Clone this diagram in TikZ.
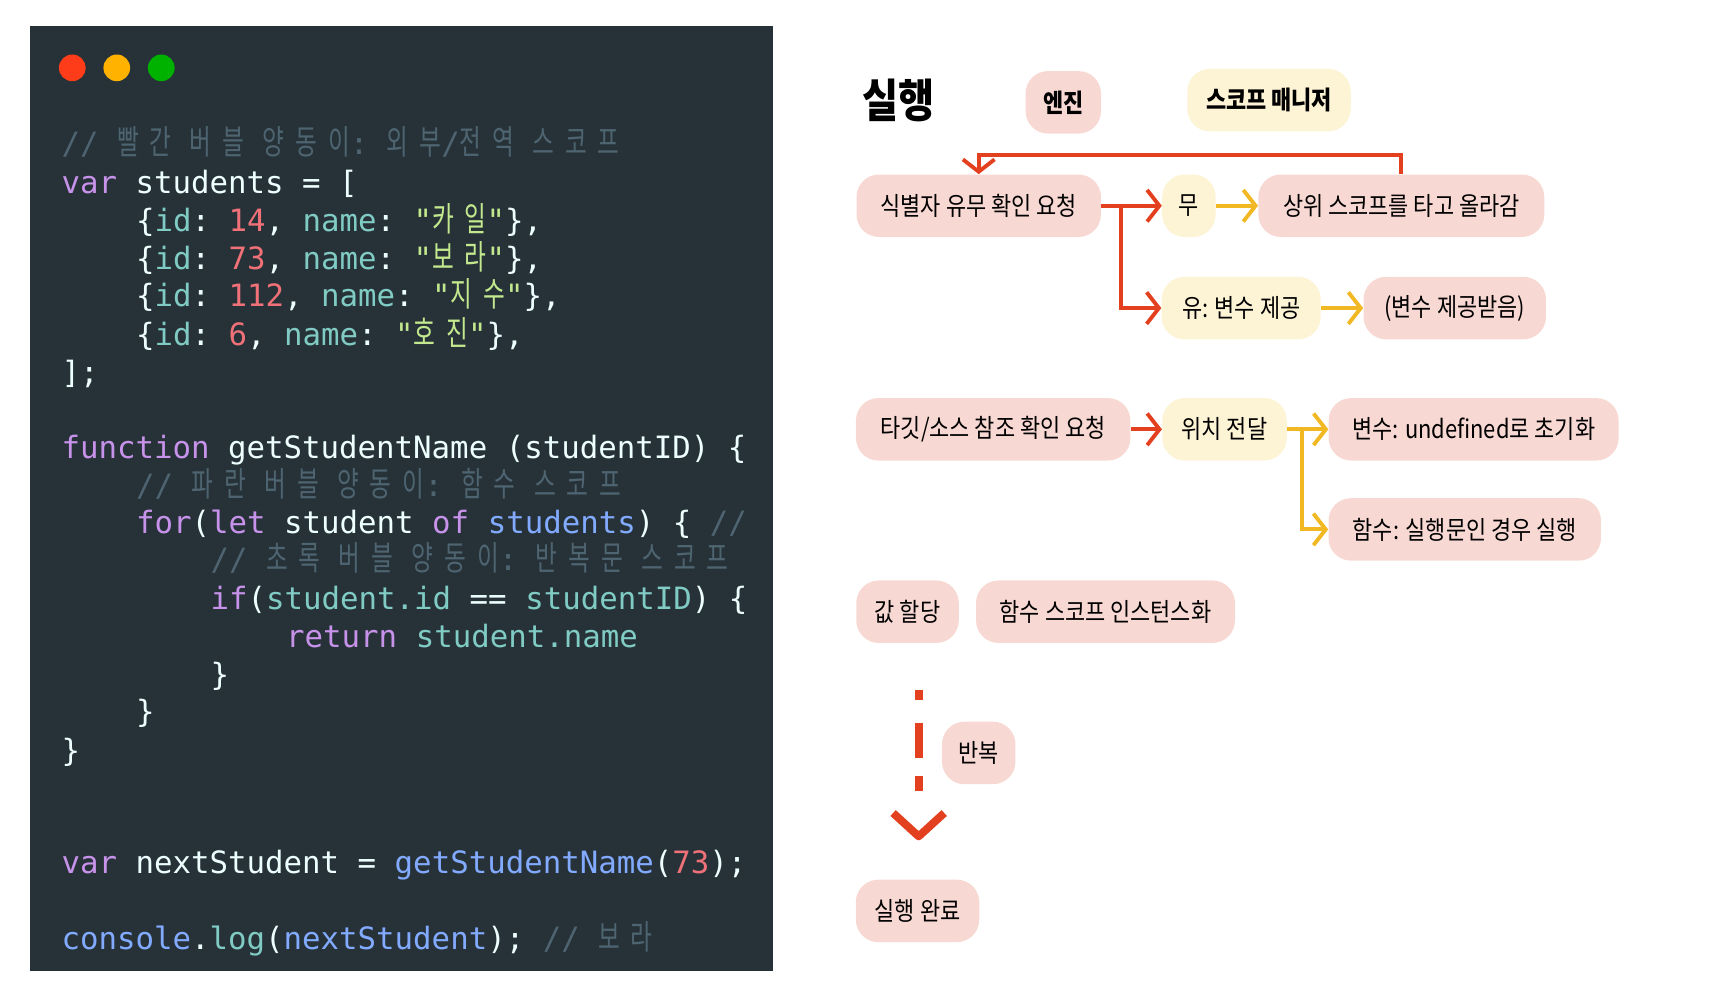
\documentclass[tikz,border=0pt]{standalone}
\usepackage{fontspec}
\setmainfont{Noto Sans CJK KR}[FakeStretch=0.86]
\setmonofont{DejaVu Sans Mono}
\newfontfamily\krmono{Noto Sans CJK KR}[Scale=1.1, FakeStretch=0.7, LetterSpace=32]
\usetikzlibrary{arrows.meta}
\definecolor{panel}{HTML}{263238}
\definecolor{cmt}{HTML}{4E6470}
\definecolor{kwd}{HTML}{C792EA}
\definecolor{prop}{HTML}{80CBC4}
\definecolor{num}{HTML}{F07178}
\definecolor{str}{HTML}{C3E88D}
\definecolor{fnc}{HTML}{82AAFF}
\definecolor{plain}{HTML}{EEFFFF}
\definecolor{pinkbox}{HTML}{F8D8D2}
\definecolor{yelbox}{HTML}{FDF3D5}
\definecolor{redline}{HTML}{E2401E}
\definecolor{yelline}{HTML}{F2B823}
\newcommand{\kw}[1]{\textcolor{kwd}{#1}}
\newcommand{\pr}[1]{\textcolor{prop}{#1}}
\newcommand{\nm}[1]{\textcolor{num}{#1}}
\newcommand{\fn}[1]{\textcolor{fnc}{#1}}
\newcommand{\ko}[1]{{\krmono #1}}
\newcommand{\st}[1]{\textcolor{str}{"\ko{#1}"}}
\newcommand{\cm}[1]{\textcolor{cmt}{// #1}}
\tikzstyle{code} = [anchor=base west, inner sep=0pt, text=plain, font=\ttfamily\fontsize{17.5}{20}\selectfont]
\tikzstyle{pinkbox} = [rectangle, rounded corners=0.45cm, fill=pinkbox, minimum height=1.25cm, font=\fontsize{14.5}{16}\selectfont]
\tikzstyle{yelbox} = [pinkbox, fill=yelbox]
\tikzstyle{redarrow} = [redline, line width=2.2pt, -{Straight Barb[length=7pt,width=18pt,line width=2.2pt]}]
\tikzstyle{yelarrow} = [redarrow, yelline]

\begin{document}
\begin{tikzpicture}[x=0.02224cm, y=-0.02224cm]
    \useasboundingbox (0,0) rectangle (1560,897.4);

    % Code panel
    \fill[panel] (27,23) rectangle (695,873);
    \fill[fill=red!70!orange!90] (65,61) circle (12);
    \fill[fill=orange!60!yellow] (105,61) circle (12);
    \fill[fill=green!70!black] (145,61) circle (12);
    \begin{scope}
    \clip (27,23) rectangle (695,873);
    \node (c1) [code] at (55,139) {\cm{\ko{빨간} \ko{버블} \ko{양동이}: \ko{외부}/\ko{전역} \ko{스코프}}};
    \node (c2) [code] at (55,174) {\kw{var} students = [};
    \node (c3) [code] at (122,208) {\{\pr{id}: \nm{14}, \pr{name}: \st{카일}\},};
    \node (c4) [code] at (122,242) {\{\pr{id}: \nm{73}, \pr{name}: \st{보라}\},};
    \node (c5) [code] at (122,276) {\{\pr{id}: \nm{112}, \pr{name}: \st{지수}\},};
    \node (c6) [code] at (122,311) {\{\pr{id}: \nm{6}, \pr{name}: \st{호진}\},};
    \node (c7) [code] at (55,345) {];};
    \node (c8) [code] at (55,412) {\kw{function} getStudentName (studentID) \{};
    \node (c9) [code] at (122,446) {\cm{\ko{파란} \ko{버블} \ko{양동이}: \ko{함수} \ko{스코프}}};
    \node (c10) [code] at (122,480) {\kw{for}(\kw{let} student \kw{of} \fn{students}) \{ \textcolor{cmt}{//}};
    \node (c11) [code] at (189,513) {\cm{\ko{초록} \ko{버블} \ko{양동이}: \ko{반복문} \ko{스코프}}};
    \node (c12) [code] at (189,548) {\kw{if}(\pr{student.id} == \pr{studentID}) \{};
    \node (c13) [code] at (257,582) {\kw{return} \pr{student.name}};
    \node (c14) [code] at (189,616) {\}};
    \node (c15) [code] at (122,650) {\}};
    \node (c16) [code] at (55,685) {\}};
    \node (c17) [code] at (55,785) {\kw{var} nextStudent = \fn{getStudentName}(\nm{73});};
    \node (c18) [code] at (55,854) {\fn{console}.\pr{log}(\fn{nextStudent}); \cm{\ko{보라}}};
    \end{scope}

    % Header
    \node (title) [font=\fontsize{26}{28}\selectfont\bfseries] at (808,90) {실행};
    \node (engine) [pinkbox, minimum width=1.51cm, font=\fontsize{14.5}{16}\selectfont\bfseries] at (956,92) {엔진};
    \node (manager) [yelbox, minimum width=3.27cm, font=\fontsize{14.5}{16}\selectfont\bfseries] at (1141,90) {스코프 매니저};

    % Nodes
    \node (lookup) [pinkbox, minimum width=4.89cm] at (880,185) {식별자 유무 확인 요청};
    \node (none) [yelbox, minimum width=1.07cm] at (1069,185) {무};
    \node (upper) [pinkbox, minimum width=5.72cm] at (1260,185) {상위 스코프를 타고 올라감};
    \node (found) [yelbox, minimum width=3.18cm] at (1116,277) {유: 변수 제공};
    \node (given) [pinkbox, minimum width=3.65cm] at (1308,277) {(변수 제공받음)};
    \node (target) [pinkbox, minimum width=5.49cm] at (893,386) {타깃/소스 참조 확인 요청};
    \node (pos) [yelbox, minimum width=2.49cm] at (1101,386) {위치 전달};
    \node (varinit) [pinkbox, minimum width=5.8cm] at (1325,386) {변수: undefined로 초기화};
    \node (funcrun) [pinkbox, minimum width=5.45cm] at (1317,476) {함수: 실행문인 경우 실행};
    \node (assign) [pinkbox, minimum width=2.05cm] at (816,550) {값 할당};
    \node (inst) [pinkbox, minimum width=5.18cm] at (994,550) {함수 스코프 인스턴스화};
    \node (loop) [pinkbox, minimum width=1.47cm] at (880,677) {반복};
    \node (done) [pinkbox, minimum width=2.47cm] at (825,819) {실행 완료};
    \coordinate (loopstart) at (826,620);

    % Arrows
    \draw [redarrow] (lookup.east) -- (none.west);
    \draw [redarrow] (lookup.east) -| ++(18,0) |- (found.west);
    \draw [redarrow] (upper.north) |- ++(0,-17) -| (lookup.north);
    \draw [yelarrow] (none) -- (upper);
    \draw [yelarrow] (found) -- (given);
    \draw [redarrow] (target) -- (pos);
    \draw [yelarrow] (pos.east) -- (varinit.west);
    \draw [yelarrow] (pos.east) -| ++(13,0) |- (funcrun.west);
    \draw [redline, line width=4.5pt, dash pattern=on 6pt off 13pt on 20pt off 10pt on 9pt off 100pt] (loopstart) -- ++(0,97);
    \draw [redline, line width=4.5pt, line join=round] (803,731) -- (826,752) -- (849,731);

\end{tikzpicture}
\end{document}
